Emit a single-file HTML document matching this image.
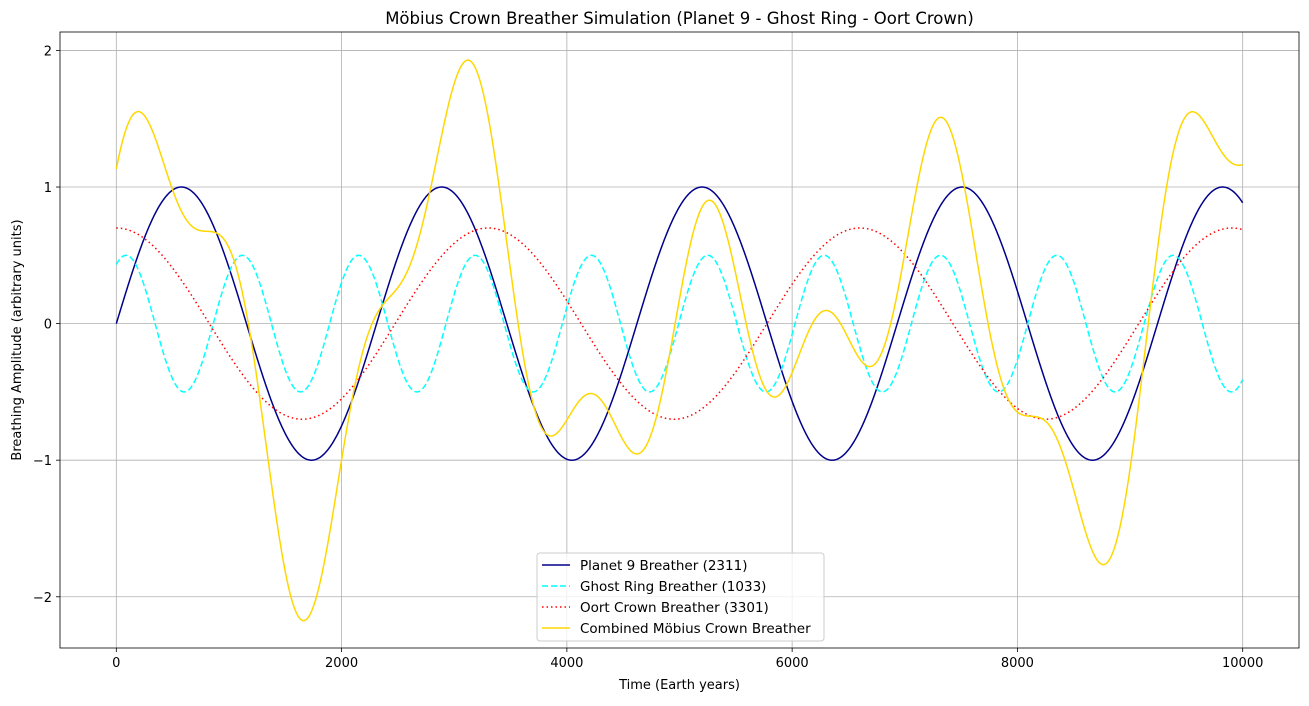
<!DOCTYPE html>
<html><head><meta charset="utf-8"><style>
body{margin:0;background:#fff;}
svg{font-family:"DejaVu Sans","Liberation Sans",sans-serif;}
</style></head><body>
<svg id="c" width="1309" height="701" xmlns="http://www.w3.org/2000/svg"></svg>
<script>
const seriesNames = ["Planet 9 Breather (2311)","Ghost Ring Breather (1033)","Oort Crown Breather (3301)","Combined Möbius Crown Breather"];
const periods = [2311, 1033, 3301];
const amplitudes = [1, 0.5, 0.7];
const phases = [0, Math.PI/3, Math.PI/2];
const xTicks = [0, 2000, 4000, 6000, 8000, 10000];
const yTicks = [-2, -1, 0, 1, 2];
const tMax = 10000;

const L=60, R=1299, T=32, B=648;
const xMin=-500, xMax=10500, yMin=-2.375, yMax=2.135;
const X=v=>L+(v-xMin)/(xMax-xMin)*(R-L);
const Y=v=>B-(v-yMin)/(yMax-yMin)*(B-T);
const svg=document.getElementById('c');
const NS='http://www.w3.org/2000/svg';
function mk(tag,attrs,parent){const e=document.createElementNS(NS,tag);for(const k in attrs)e.setAttribute(k,attrs[k]);(parent||svg).appendChild(e);return e;}

const grid=mk('g',{});


xTicks.forEach(v=>{
  mk('line',{x1:X(v),x2:X(v),y1:T,y2:B,stroke:'#b0b0b0','stroke-width':0.8},grid);
  mk('line',{x1:X(v),x2:X(v),y1:B,y2:B+4,stroke:'#000','stroke-width':0.8});
  const t=mk('text',{x:X(v),y:B+19,'text-anchor':'middle','font-size':13});
  t.textContent=v;
  
  
});
yTicks.forEach(v=>{
  mk('line',{x1:L,x2:R,y1:Y(v),y2:Y(v),stroke:'#b0b0b0','stroke-width':0.8},grid);
  mk('line',{x1:L-4,x2:L,y1:Y(v),y2:Y(v),stroke:'#000','stroke-width':0.8});
  const t=mk('text',{x:L-8,y:Y(v)+5,'text-anchor':'end','font-size':13});
  t.textContent=(v<0?'\u2212'+(-v):v);
  
  
});

const colors=['#00008b','#00ffff','#ff0000','#ffd700'];
const dashes=['none','6,3','1.5,3','none'];
const N=2000;
const pts=[[],[],[],[]];
for(let i=0;i<=N;i++){
  const t=tMax*i/N;let s=0;
  for(let k=0;k<3;k++){const v=amplitudes[k]*Math.sin(2*Math.PI*t/periods[k]+phases[k]);s+=v;pts[k].push(X(t).toFixed(2)+','+Y(v).toFixed(2));}
  pts[3].push(X(t).toFixed(2)+','+Y(s).toFixed(2));
}
const names=['planet9-line','ghost-ring-line','oort-crown-line','combined-line'];
for(let k=0;k<4;k++){
  const p=mk('polyline',{points:pts[k].join(' '),fill:'none',stroke:colors[k],'stroke-width':1.5,'stroke-dasharray':dashes[k]});
  
  
}
mk('rect',{x:L,y:T,width:R-L,height:B-T,fill:'none',stroke:'#000','stroke-width':0.8});

const title=mk('text',{x:(L+R)/2,y:24,'text-anchor':'middle','font-size':16.5});
title.textContent='Möbius Crown Breather Simulation (Planet 9 - Ghost Ring - Oort Crown)';


const xl=mk('text',{x:(L+R)/2,y:689,'text-anchor':'middle','font-size':13});
xl.textContent='Time (Earth years)';


const yl=mk('text',{x:21,y:(T+B)/2,'text-anchor':'middle','font-size':13,transform:'rotate(-90 21 '+((T+B)/2)+')'});
yl.textContent='Breathing Amplitude (arbitrary units)';



const lg=mk('g',{});


mk('rect',{x:537,y:553,width:287,height:88,rx:3,fill:'#fff','fill-opacity':0.8,stroke:'#ccc'},lg);
for(let k=0;k<4;k++){
  const y=565+k*21;
  mk('line',{x1:542,x2:570,y1:y,y2:y,stroke:colors[k],'stroke-width':1.5,'stroke-dasharray':dashes[k]},lg);
  const t=mk('text',{x:580,y:y+5,'font-size':13.5},lg);
  t.textContent=seriesNames[k];
  
  
}
</script>
</body></html>
